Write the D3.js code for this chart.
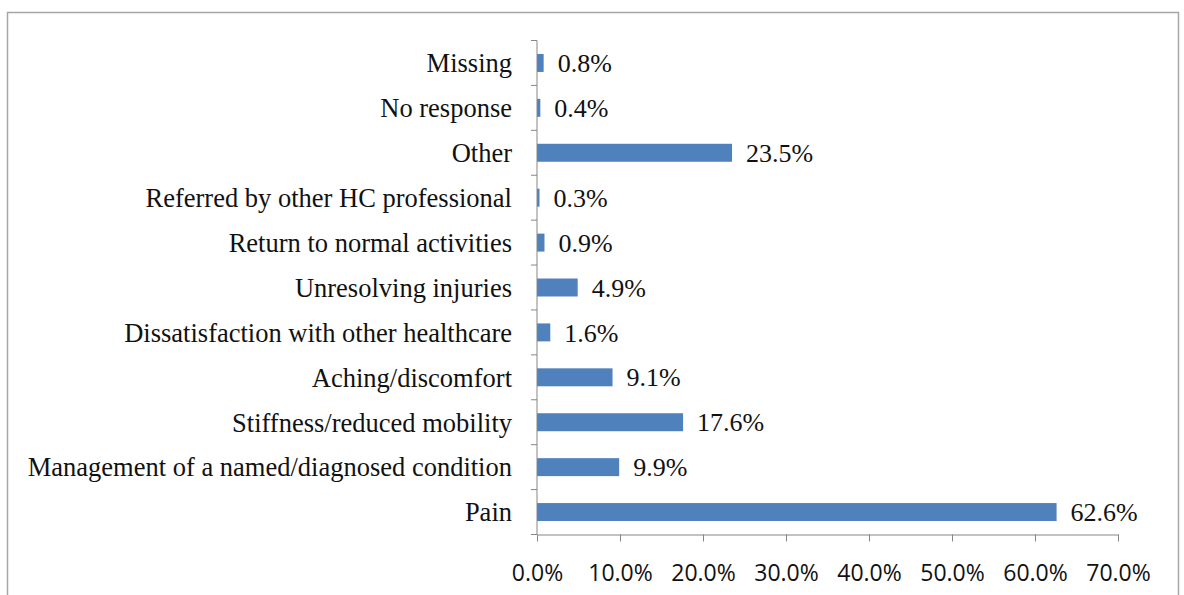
<!DOCTYPE html>
<html>
<head>
<meta charset="utf-8">
<script src="https://cdn.jsdelivr.net/npm/d3@7"></script>
<style>
  body { margin: 0; background: #fff; }
  svg { display: block; }
</style>
</head>
<body>
<div id="chart"></div>
<script>
// categories from top to bottom
const categories = [
  'Missing',
  'No response',
  'Other',
  'Referred by other HC professional',
  'Return to normal activities',
  'Unresolving injuries',
  'Dissatisfaction with other healthcare',
  'Aching/discomfort',
  'Stiffness/reduced mobility',
  'Management of a named/diagnosed condition',
  'Pain'
];
const percents = [0.8, 0.4, 23.5, 0.3, 0.9, 4.9, 1.6, 9.1, 17.6, 9.9, 62.6];
const xTicks = [0, 10, 20, 30, 40, 50, 60, 70];

const W = 1184, H = 595;
const plotL = 537, plotR = 1118, plotT = 40.5, plotB = 534.5;

const svg = d3.select('#chart').append('svg')
  .attr('width', W)
  .attr('height', H);

// outer frame
svg.append('rect')
  .attr('x', 7.5).attr('y', 12.5)
  .attr('width', 1171).attr('height', 600)
  .attr('fill', 'none')
  .attr('stroke', '#a6a6a6')
  .attr('stroke-width', 1.5);

const x = d3.scaleLinear().domain([0, 70]).range([plotL, plotR]);
const y = d3.scaleBand().domain(categories).range([plotT, plotB]).paddingInner(0.6).paddingOuter(0.3);

// bars
svg.selectAll('rect.bar')
  .data(categories)
  .enter().append('rect')
  .attr('class', 'bar')
  .attr('x', x(0))
  .attr('y', d => y(d))
  .attr('width', (d, i) => x(percents[i]) - x(0))
  .attr('height', y.bandwidth())
  .attr('fill', '#4f81bd');

// value labels
svg.selectAll('text.val')
  .data(categories)
  .enter().append('text')
  .attr('class', 'val')
  .attr('x', (d, i) => x(percents[i]) + 14)
  .attr('y', d => y(d) + y.bandwidth() / 2)
  .attr('dy', '0.35em')
  .attr('font-family', '"Liberation Serif", serif')
  .attr('font-size', 26)
  .attr('fill', '#111')
  .text((d, i) => percents[i].toFixed(1) + '%');

// x axis
const xAxis = svg.append('g')
  .attr('transform', 'translate(0,' + plotB + ')')
  .call(d3.axisBottom(x).tickValues(xTicks).tickSize(7).tickSizeOuter(0)
    .tickFormat(d => d.toFixed(1) + '%'));
xAxis.select('.domain').attr('stroke', '#868686');
xAxis.selectAll('.tick line').attr('stroke', '#868686');
xAxis.selectAll('.tick text')
  .attr('y', 30)
  .attr('font-family', '"Open Sans", sans-serif')
  .attr('font-size', 23)
  .attr('fill', '#111');

// y axis line and ticks at category boundaries
const step = y.step();
const bounds = d3.range(categories.length + 1).map(i => plotT + i * step);
svg.append('line')
  .attr('x1', plotL).attr('x2', plotL)
  .attr('y1', plotT).attr('y2', plotB)
  .attr('stroke', '#868686');
svg.selectAll('line.ytick')
  .data(bounds)
  .enter().append('line')
  .attr('class', 'ytick')
  .attr('x1', plotL - 6).attr('x2', plotL)
  .attr('y1', d => d).attr('y2', d => d)
  .attr('stroke', '#868686');

// category labels
svg.selectAll('text.cat')
  .data(categories)
  .enter().append('text')
  .attr('class', 'cat')
  .attr('x', plotL - 25)
  .attr('y', d => y(d) + y.bandwidth() / 2)
  .attr('dy', '0.35em')
  .attr('text-anchor', 'end')
  .attr('font-family', '"Liberation Serif", serif')
  .attr('font-size', 26.5)
  .attr('fill', '#111')
  .text(d => d);
</script>
</body>
</html>
